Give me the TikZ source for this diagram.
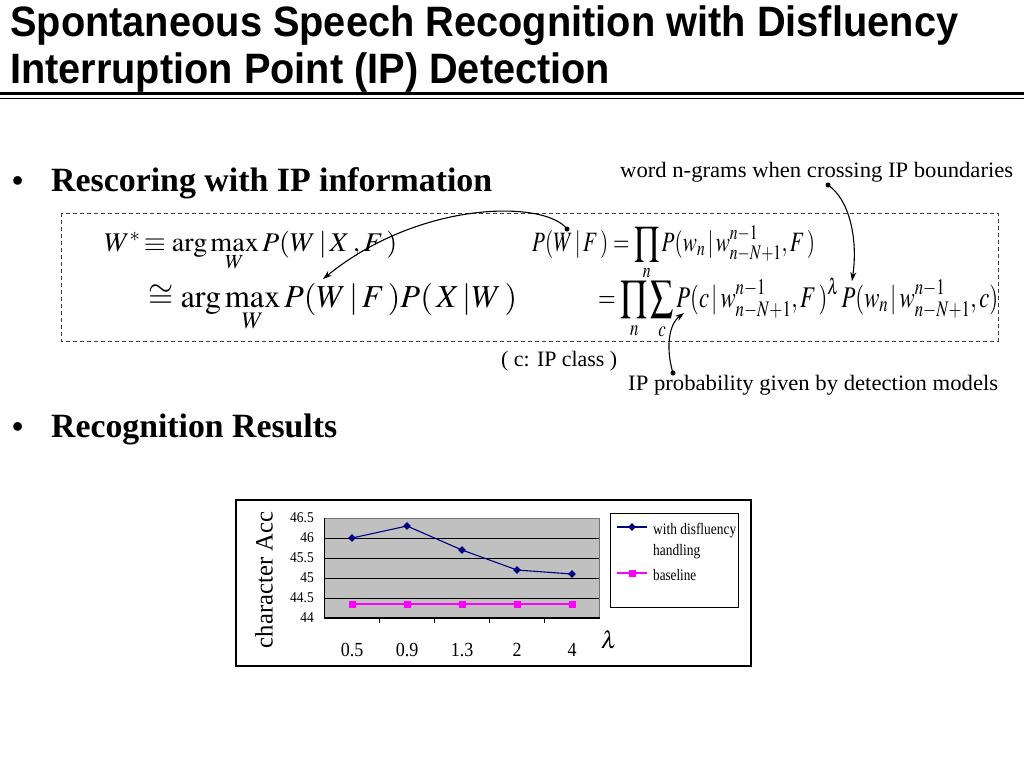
\documentclass[tikz,border=0pt]{standalone}
\usepackage{mathptmx}
\usepackage[no-math]{fontspec}
\setmainfont{Liberation Serif}
\setsansfont{Liberation Sans}
\usepackage{graphicx}
\usetikzlibrary{arrows.meta,shapes.geometric}
\definecolor{navyc}{HTML}{000080}
\definecolor{magc}{HTML}{FF00FF}
\definecolor{plotgray}{HTML}{C0C0C0}
\newsavebox\fitbox
\newlength\fitlen
\newcommand\fitto[2]{\sbox\fitbox{#2}\setlength\fitlen{\wd\fitbox}\pgfmathsetmacro\fitfac{#1/\fitlen}\scalebox{\fitfac}[1]{\usebox\fitbox}}
\begin{document}
\begin{tikzpicture}[x=1pt,y=-1pt,
  ttl/.style={inner sep=0pt, anchor=base west, font=\fontsize{42.5}{46}\sffamily\bfseries\selectfont},
  bulhead/.style={inner sep=0pt, anchor=base west, font=\fontsize{34}{38}\bfseries\selectfont},
  bulmark/.style={inner sep=0pt, anchor=base west, font=\fontsize{32}{36}\bfseries\selectfont},
  lbl/.style={inner sep=0pt, anchor=base west, font=\fontsize{22}{26}\selectfont},
  fml/.style={inner sep=0pt, anchor=base west},
  conn/.style={line width=1.1pt, -{Stealth[length=9pt,width=6pt]}},
  dotc/.style={circle, fill=black, inner sep=0pt, minimum size=5pt},
  ylab/.style={inner sep=0pt, anchor=east, font=\fontsize{15}{17}\selectfont},
  xlab/.style={inner sep=0pt, anchor=center, font=\fontsize{20}{22}\selectfont},
  leg/.style={inner sep=0pt, anchor=base west, font=\fontsize{16}{18}\selectfont},
  mkA/.style={diamond, fill=navyc, inner sep=0pt, minimum size=8pt},
  mkB/.style={rectangle, fill=magc, inner sep=0pt, minimum size=7pt},
  serA/.style={navyc, line width=1.1pt},
  serB/.style={magc, line width=1.1pt}]
\path[use as bounding box, fill=white] (0,0) rectangle (1024,768);

% title
\node[ttl] (t1) at (10,37) {\fitto{948}{Spontaneous Speech Recognition with Disfluency}};
\node[ttl] (t2) at (10,83) {\fitto{600}{Interruption Point (IP) Detection}};
\draw[line width=3pt] (0,93.5) -- (1024,93.5);
\draw[line width=1pt] (0,98) -- (1024,98);

% bullet 1
\node[bulmark] (b1) at (12,191) {•};
\node[bulhead] (h1) at (51,191) {\fitto{441}{Rescoring with IP information}};

% dashed frame
\draw[dashed, dash pattern=on 4pt off 3pt, line width=0.8pt, black!75] (61,213) rectangle (998,341);

% formulas
\node[fml, font=\fontsize{27}{30}\selectfont] (f1) at (104,251)
  {\fitto{293}{$W^{*}\!\equiv \mathrm{arg}\max\limits_{W} P(W\,|\,X\,,F\,)$}};
\node[fml, font=\fontsize{32}{36}\selectfont] (f2) at (148,307)
  {\fitto{369}{$\cong \mathrm{arg}\max\limits_{W} P(W\,|\,F\,)P(\,X\,|W\,)$}};
\node[fml, font=\fontsize{28}{31}\selectfont] (f3) at (532,251)
  {\fitto{283}{$\displaystyle P(W\,|\,F\,)=\prod_{n}P(w_{n}\,|\,w_{n-N+1}^{n-1},F\,)$}};
\node[fml, font=\fontsize{30}{34}\selectfont] (f4) at (598,307)
  {\fitto{400}{$\displaystyle =\prod_{n}\sum_{c}P(c\,|\,w_{n-N+1}^{n-1},F\,)^{\lambda}\,P(w_{n}\,|\,w_{n-N+1}^{n-1},c)$}};

% labels
\node[lbl] (l1) at (620,177) {\fitto{393}{word n-grams when crossing IP boundaries}};
\node[lbl] (l2) at (501,366) {\fitto{116}{( c: IP class )}};
\node[lbl] (l3) at (628,390) {\fitto{370}{IP probability given by detection models}};

% connectors
\node[dotc] (dA) at (567,229) {};
\coordinate (tA) at (323,279);
\draw[conn] (dA.center) .. controls (545,200) and (420,200) .. (tA);
\node[dotc] (dB) at (828,185) {};
\coordinate (tB) at (852,281);
\draw[conn] (dB.center) .. controls (850,200) and (858,240) .. (tB);
\node[dotc] (dC) at (673,373) {};
\coordinate (tC) at (684,313);
\draw[conn] (dC.center) .. controls (666,350) and (668,325) .. (tC);

% bullet 2
\node[bulmark] (b2) at (12,437) {•};
\node[bulhead] (h2) at (51,437) {\fitto{286}{Recognition Results}};

% chart
\draw[line width=1.5pt] (236,500) rectangle (751,666);
\fill[plotgray] (324.5,518) rectangle (599.5,618);
\foreach \yy in {538,558,578,598} \draw[line width=1pt] (324.5,\yy) -- (599.5,\yy);
\draw[black!55, line width=1pt] (324.5,518) -- (599.5,518) -- (599.5,618);
\draw[line width=1.3pt] (324.5,518) -- (324.5,618) -- (599.5,618);
\foreach \xx in {379.5,434.5,489.5,544.5} \draw[line width=1pt] (\xx,618) -- (\xx,623);

\foreach \v/\yy in {46.5/518,46/538,45.5/558,45/578,44.5/598,44/618}
  \node[ylab] at (314,\yy) {\scalebox{0.9}[1]{\v}};
\foreach \v/\xx in {0.5/352,0.9/407,1.3/462,2/517,4/572}
  \node[xlab] at (\xx,650) {\scalebox{0.9}[1]{\v}};
\node[rotate=90, inner sep=0pt, font=\fontsize{25}{28}\selectfont] (yt) at (264,580) {\fitto{136}{character Acc}};
\node[inner sep=0pt, font=\fontsize{24}{28}\selectfont] (lam) at (609,640) {$\lambda$};

% series
\node[mkA] (a1) at (352,538) {};
\node[mkA] (a2) at (407,526) {};
\node[mkA] (a3) at (462,550) {};
\node[mkA] (a4) at (517,570) {};
\node[mkA] (a5) at (572,574) {};
\draw[serA] (a1.center) -- (a2.center) -- (a3.center) -- (a4.center) -- (a5.center);
\node[mkB] (c1) at (352,604) {};
\node[mkB] (c2) at (407,604) {};
\node[mkB] (c3) at (462,604) {};
\node[mkB] (c4) at (517,604) {};
\node[mkB] (c5) at (572,604) {};
\draw[serB] (c1.center) -- (c2.center) -- (c3.center) -- (c4.center) -- (c5.center);

% legend
\draw[line width=1pt] (610.5,513) rectangle (738,607);
\coordinate (la1) at (617,527); \coordinate (la2) at (647,527);
\draw[serA] (la1) -- (la2);
\node[mkA] (lma) at (632,527) {};
\node[leg] (lt1) at (653,534) {\fitto{83}{with disfluency}};
\node[leg] (lt2) at (653,555) {\fitto{47}{handling}};
\coordinate (lb1) at (617,573); \coordinate (lb2) at (647,573);
\draw[serB] (lb1) -- (lb2);
\node[mkB] (lmb) at (632,573) {};
\node[leg] (lt3) at (653,580) {\fitto{43}{baseline}};
\end{tikzpicture}
\end{document}
